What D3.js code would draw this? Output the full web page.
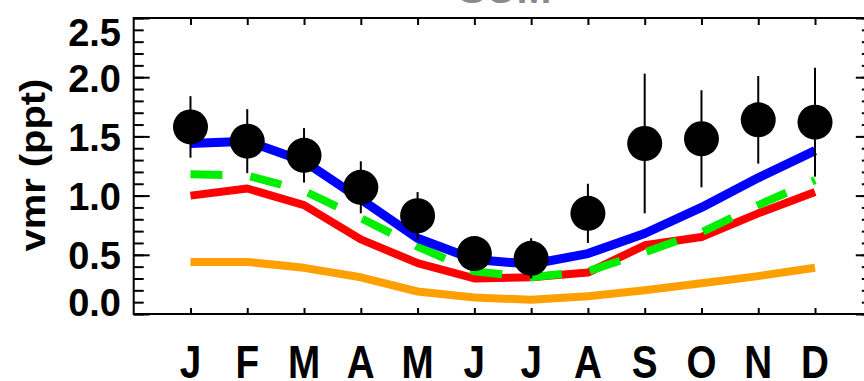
<!DOCTYPE html>
<html>
<head>
<meta charset="utf-8">
<script src="https://cdn.jsdelivr.net/npm/d3@7"></script>
<style>
  html, body { margin: 0; padding: 0; background: #fff; }
  svg { display: block; }
  text { font-family: "Liberation Sans", Arial, Helvetica, sans-serif; font-weight: bold; }
</style>
</head>
<body>
<svg id="chart" width="864" height="381"></svg>
<script>
// Monthly mixing ratio (ppt) at SUM: observations with 1-sigma spread and four model runs
const months = ["J", "F", "M", "A", "M", "J", "J", "A", "S", "O", "N", "D"];
const obsMean = [1.58, 1.46, 1.34, 1.07, 0.83, 0.51, 0.47, 0.85, 1.44, 1.48, 1.64, 1.62];
const obsSpread = [0.26, 0.27, 0.23, 0.22, 0.20, 0.12, 0.17, 0.25, 0.59, 0.41, 0.37, 0.46];
const modelBlue = [1.44, 1.46, 1.29, 0.97, 0.64, 0.46, 0.42, 0.51, 0.68, 0.90, 1.15, 1.38];
const modelGreen = [1.18, 1.17, 1.04, 0.81, 0.57, 0.36, 0.31, 0.36, 0.52, 0.69, 0.92, 1.13];
const modelRed = [1.00, 1.06, 0.92, 0.63, 0.43, 0.30, 0.31, 0.35, 0.58, 0.65, 0.85, 1.03];
const modelOrange = [0.44, 0.44, 0.39, 0.31, 0.19, 0.14, 0.12, 0.15, 0.20, 0.26, 0.32, 0.39];
const yTickValues = [0, 0.5, 1.0, 1.5, 2.0, 2.5];
const yTickLabels = ["0.0", "0.5", "1.0", "1.5", "2.0", "2.5"];
const titleText = "SUM";
const yTitle = "vmr (ppt)";

const svg = d3.select("#chart");
const plotLeft = 133.7, plotRight = 871.8, plotTop = 18, plotBottom = 314;

const x = d3.scaleLinear().domain([0, 13]).range([plotLeft, plotRight]);
const y = d3.scaleLinear().domain([0, 2.5]).range([plotBottom, plotTop]);
const monthIdx = d3.range(1, 13);

// title (sits mostly above the visible area)
svg.append("text")
  .attr("x", (plotLeft + plotRight) / 2 + 2)
  .attr("y", 3)
  .attr("text-anchor", "middle")
  .attr("font-size", 42)
  .attr("fill", "#8a8a8a")
  .text(titleText);

// model curves
const line = d3.line()
  .x((d, i) => x(i + 1))
  .y(d => y(d));

const series = [
  { values: modelOrange, color: "#ffa000", width: 8, dash: null },
  { values: modelRed, color: "#ff0000", width: 8, dash: null },
  { values: modelGreen, color: "#00ee00", width: 8, dash: "32,28" },
  { values: modelBlue, color: "#0000ff", width: 9, dash: null }
];

svg.append("g").selectAll("path")
  .data(series)
  .join("path")
  .attr("d", d => line(d.values))
  .attr("fill", "none")
  .attr("stroke", d => d.color)
  .attr("stroke-width", d => d.width)
  .attr("stroke-linejoin", "round")
  .attr("stroke-dasharray", d => d.dash);

// observations
const obs = svg.append("g");
obs.selectAll("circle")
  .data(obsMean)
  .join("circle")
  .attr("cx", (d, i) => x(i + 1))
  .attr("cy", d => y(d))
  .attr("r", 17.5)
  .attr("fill", "#000");

obs.selectAll("line")
  .data(obsMean)
  .join("line")
  .attr("x1", (d, i) => x(i + 1))
  .attr("x2", (d, i) => x(i + 1))
  .attr("y1", (d, i) => y(d - obsSpread[i]))
  .attr("y2", (d, i) => y(d + obsSpread[i]))
  .attr("stroke", "#000")
  .attr("stroke-width", 2);

// axes: ticks point inward on all four sides
const minorValues = d3.range(0, 26).map(k => k / 10);

function styleAxis(g) {
  g.select(".domain").remove();
  g.selectAll(".tick line").attr("stroke", "#000").attr("stroke-width", 2);
  g.selectAll(".tick text").remove();
}

svg.append("g")
  .attr("transform", `translate(${plotLeft},0)`)
  .call(d3.axisLeft(y).tickValues(minorValues).tickSize(-10))
  .call(styleAxis);
svg.append("g")
  .attr("transform", `translate(${plotLeft},0)`)
  .call(d3.axisLeft(y).tickValues(yTickValues).tickSize(-16))
  .call(styleAxis);
svg.append("g")
  .attr("transform", `translate(${plotRight},0)`)
  .call(d3.axisRight(y).tickValues(minorValues).tickSize(-10))
  .call(styleAxis);
svg.append("g")
  .attr("transform", `translate(${plotRight},0)`)
  .call(d3.axisRight(y).tickValues(yTickValues).tickSize(-16))
  .call(styleAxis);
svg.append("g")
  .attr("transform", `translate(0,${plotTop})`)
  .call(d3.axisTop(x).tickValues(monthIdx).tickSize(-7))
  .call(styleAxis);
svg.append("g")
  .attr("transform", `translate(0,${plotBottom})`)
  .call(d3.axisBottom(x).tickValues(monthIdx).tickSize(-6))
  .call(styleAxis);

// frame
svg.append("rect")
  .attr("x", plotLeft).attr("y", plotTop)
  .attr("width", plotRight - plotLeft).attr("height", plotBottom - plotTop)
  .attr("fill", "none").attr("stroke", "#000").attr("stroke-width", 2);

// y tick labels, kept inside the frame at the ends
const yFont = 38, halfDigit = yFont * 0.358;
svg.append("g").selectAll("text")
  .data(yTickValues)
  .join("text")
  .attr("x", 121)
  .attr("y", d => {
    const c = Math.min(Math.max(y(d) + 1, plotTop + 14), plotBottom - 12);
    return c + halfDigit;
  })
  .attr("text-anchor", "end")
  .attr("font-size", yFont)
  .attr("fill", "#000")
  .text((d, i) => yTickLabels[i]);

// month labels
svg.append("g").selectAll("text")
  .data(months)
  .join("text")
  .attr("transform", (d, i) => `translate(${x(i + 1)},378) scale(0.92,1.1)`)
  .attr("text-anchor", "middle")
  .attr("font-size", 42)
  .attr("fill", "#000")
  .text(d => d);

// y axis title
svg.append("text")
  .attr("transform", "translate(45,165) rotate(-90) scale(1.05,0.9)")
  .attr("text-anchor", "middle")
  .attr("font-size", 38)
  .attr("fill", "#000")
  .text(yTitle);
</script>
</body>
</html>
